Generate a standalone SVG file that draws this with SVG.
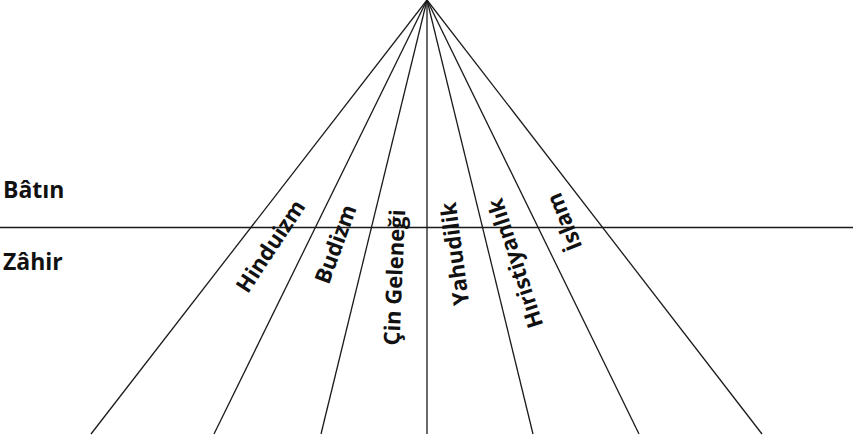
<svg xmlns="http://www.w3.org/2000/svg" width="853" height="436" viewBox="0 0 853 436">
<style>
.ln{stroke:#1a1a1a;stroke-width:1.3;fill:none}
.side{font-family:"Open Sans","Liberation Sans",sans-serif;font-weight:700;font-size:23px;fill:#111}
.rel{font-family:"Open Sans","Liberation Sans",sans-serif;font-weight:700;font-size:22px;fill:#111;text-anchor:middle}
</style>
<rect width="853" height="436" fill="#fff"/>
<g id="connectors">
<line class="ln" x1="0" y1="227.5" x2="853" y2="227.5"/>
<line class="ln" x1="427" y1="0" x2="91" y2="434"/>
<line class="ln" x1="427" y1="0" x2="214" y2="434"/>
<line class="ln" x1="427" y1="0" x2="321" y2="434"/>
<line class="ln" x1="427" y1="0" x2="427" y2="434"/>
<line class="ln" x1="427" y1="0" x2="533" y2="434"/>
<line class="ln" x1="427" y1="0" x2="639" y2="434"/>
<line class="ln" x1="427" y1="0" x2="762" y2="434"/>
</g>
<g id="batin"><text class="side" x="3" y="197.5">Bâtın</text></g>
<g id="zahir"><text class="side" x="3" y="270">Zâhir</text></g>
<g id="hinduizm"><text class="rel" transform="translate(270.3,246) rotate(-56.5)" y="8">Hinduizm</text></g>
<g id="budizm"><text class="rel" transform="translate(335.3,244) rotate(-70)" y="8">Budizm</text></g>
<g id="cin"><text class="rel" transform="translate(394.3,277.5) rotate(-87.5)" y="8">Çin Geleneği</text></g>
<g id="yahudilik"><text class="rel" transform="translate(454.5,254) rotate(-97.5)" y="8">Yahudilik</text></g>
<g id="hiristiyanlik"><text class="rel" transform="translate(515,263.5) rotate(-108)" y="8">Hıristiyanlık</text></g>
<g id="islam"><text class="rel" transform="translate(564,222) rotate(-112)" y="8">İslam</text></g>
</svg>
